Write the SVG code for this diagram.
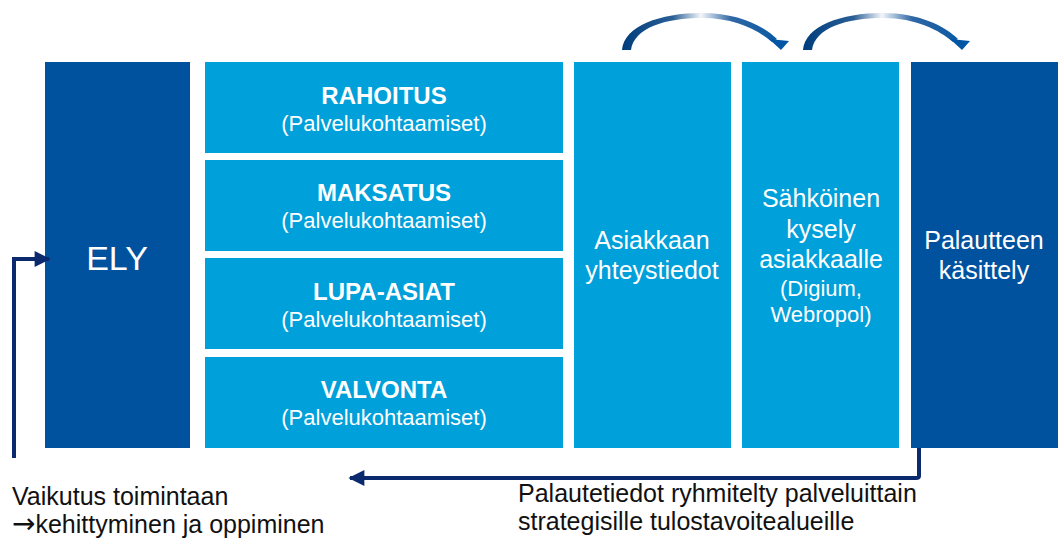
<svg xmlns="http://www.w3.org/2000/svg" width="1058" height="538" viewBox="0 0 1058 538">
<defs>
<style>
.dark{fill:#00529F}
.light{fill:#00A0DA}
.t{font-family:"Liberation Sans",Arial,sans-serif;fill:#fff;text-anchor:middle}
.h{font-size:24px;font-weight:bold}
.s{font-size:22px}
.m{font-size:25px}
.b{font-family:"Liberation Sans",Arial,sans-serif;fill:#111;font-size:25px}
.conn{fill:none;stroke:#0B2A6E;stroke-width:4}
</style>
<linearGradient id="arcg" gradientUnits="userSpaceOnUse" x1="622" y1="0" x2="790" y2="0">
<stop offset="0" stop-color="#003D7C"/>
<stop offset="0.3" stop-color="#2A5E96"/>
<stop offset="0.47" stop-color="#F2F6FA"/>
<stop offset="0.65" stop-color="#2F67A4"/>
<stop offset="1" stop-color="#0055A4"/>
</linearGradient>
<g id="arc">
<path d="M622,50 C624,26 660,13 702,13 C738,13 764,26 777,39 L772,42 C758,30 735,18 702,18 C665,18 634,28 631,50 Z" fill="url(#arcg)"/>
<polygon points="769,39 789,41 781,50" fill="#0055A4"/>
</g>
<marker id="ah" viewBox="0 0 10 10" refX="9" refY="5" markerWidth="4.5" markerHeight="4" orient="auto" markerUnits="strokeWidth">
<path d="M0,0 L10,5 L0,10 Z" fill="#0B2A6E"/>
</marker>
</defs>
<rect width="1058" height="538" fill="#fff"/>

<g id="ely">
<rect class="dark" x="45" y="62" width="145" height="386"/>
<text class="t" x="117" y="270" font-size="34">ELY</text>
</g>
<g id="rahoitus">
<rect class="light" x="205" y="62" width="358" height="91"/>
<text class="t h" x="384" y="104">RAHOITUS</text>
<text class="t s" x="384" y="131">(Palvelukohtaamiset)</text>
</g>
<g id="maksatus">
<rect class="light" x="205" y="160" width="358" height="91"/>
<text class="t h" x="384" y="201">MAKSATUS</text>
<text class="t s" x="384" y="228">(Palvelukohtaamiset)</text>
</g>
<g id="lupa">
<rect class="light" x="205" y="258" width="358" height="91"/>
<text class="t h" x="384" y="300">LUPA-ASIAT</text>
<text class="t s" x="384" y="327">(Palvelukohtaamiset)</text>
</g>
<g id="valvonta">
<rect class="light" x="205" y="357" width="358" height="91"/>
<text class="t h" x="384" y="398">VALVONTA</text>
<text class="t s" x="384" y="425">(Palvelukohtaamiset)</text>
</g>
<g id="asiakkaan">
<rect class="light" x="574" y="62" width="157" height="386"/>
<text class="t m" x="652" y="249">Asiakkaan</text>
<text class="t m" x="652" y="279">yhteystiedot</text>
</g>
<g id="sahkoinen">
<rect class="light" x="742" y="62" width="157" height="386"/>
<text class="t m" x="821" y="207">Sähköinen</text>
<text class="t m" x="821" y="238">kysely</text>
<text class="t m" x="821" y="268">asiakkaalle</text>
<text class="t s" x="821" y="296">(Digium,</text>
<text class="t s" x="821" y="322">Webropol)</text>
</g>
<g id="palautteen">
<rect class="dark" x="911" y="62" width="147" height="386"/>
<text class="t m" x="984" y="249">Palautteen</text>
<text class="t m" x="984" y="279">käsittely</text>
</g>

<g id="connectors">
<use href="#arc"/>
<use href="#arc" transform="translate(181,0)"/>
<path class="conn" d="M919,448 V476 Q919,478 916,478 H350" marker-end="url(#ah)"/>
<path class="conn" d="M14,458 V259 H49" marker-end="url(#ah)"/>
</g>

<g id="labels">
<text class="b" x="12" y="505">Vaikutus toimintaan</text>
<text class="b" x="12" y="533"><tspan font-family="DejaVu Sans" font-size="28">→</tspan>kehittyminen ja oppiminen</text>
<text class="b" x="518" y="502">Palautetiedot ryhmitelty palveluittain</text>
<text class="b" x="518" y="530">strategisille tulostavoitealueille</text>
</g>
</svg>
